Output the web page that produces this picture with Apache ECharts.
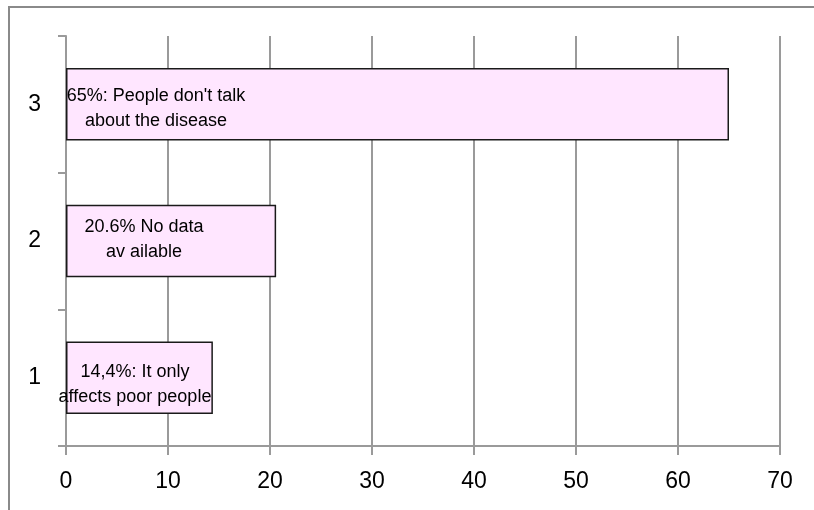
<!DOCTYPE html>
<html><head><meta charset="utf-8">
<script src="https://cdn.jsdelivr.net/npm/echarts@6/dist/echarts.min.js"></script>
<style>html,body{margin:0;padding:0;background:#fff}#c{width:814px;height:510px}</style>
</head><body><div id="c"></div>
<script>
const categories = ['1', '2', '3'];
const values = [14.4, 20.6, 65];
const barLabels = [
  '14,4%: It only\naffects poor people',
  '20.6% No data\nav ailable',
  "65%: People don't talk\nabout the disease"
];
const xMin = 0, xMax = 70, xInterval = 10;

// label placement (layout only)
const labelShift = [[69, 7], [78, -1], [90, 4]];

const gridColor = '#9a9a9a';
const axisFont = 'Liberation Sans';

const chart = echarts.init(document.getElementById('c'));
chart.setOption({
  animation: false,
  backgroundColor: '#fff',
  graphic: [{
    type: 'rect', z: -1,
    shape: { x: 9, y: 7, width: 900, height: 600 },
    style: { fill: 'none', stroke: '#8a8a8a', lineWidth: 2 }
  }],
  grid: { left: 66, right: 34, top: 36, bottom: 64 },
  xAxis: {
    type: 'value', min: xMin, max: xMax, interval: xInterval,
    axisLine: { show: true, lineStyle: { color: gridColor, width: 2 } },
    axisTick: { show: true, length: 9, lineStyle: { color: gridColor, width: 2 } },
    splitLine: { show: true, lineStyle: { color: gridColor, width: 2 } },
    axisLabel: { margin: 24, fontSize: 23, color: '#000', fontFamily: axisFont }
  },
  yAxis: {
    type: 'category', data: categories,
    axisLine: { show: true, lineStyle: { color: gridColor, width: 2 } },
    axisTick: { show: true, length: 8, lineStyle: { color: gridColor, width: 2 } },
    splitLine: { show: false },
    axisLabel: { margin: 25, fontSize: 23, color: '#000', fontFamily: axisFont, padding: [12, 0, 0, 0] }
  },
  series: [{
    type: 'bar',
    barCategoryGap: '47%',
    data: values.map((v, i) => ({
      value: v,
      label: { offset: labelShift[i] }
    })),
    itemStyle: { color: '#ffe6ff', borderColor: '#1a1a1a', borderWidth: 1.5 },
    label: {
      show: true,
      position: 'insideLeft',
      distance: 0,
      align: 'center',
      verticalAlign: 'middle',
      formatter: p => barLabels[p.dataIndex],
      fontFamily: 'Liberation Sans',
      fontSize: 18,
      lineHeight: 25,
      color: '#000'
    }
  }]
});
</script>
</body></html>
